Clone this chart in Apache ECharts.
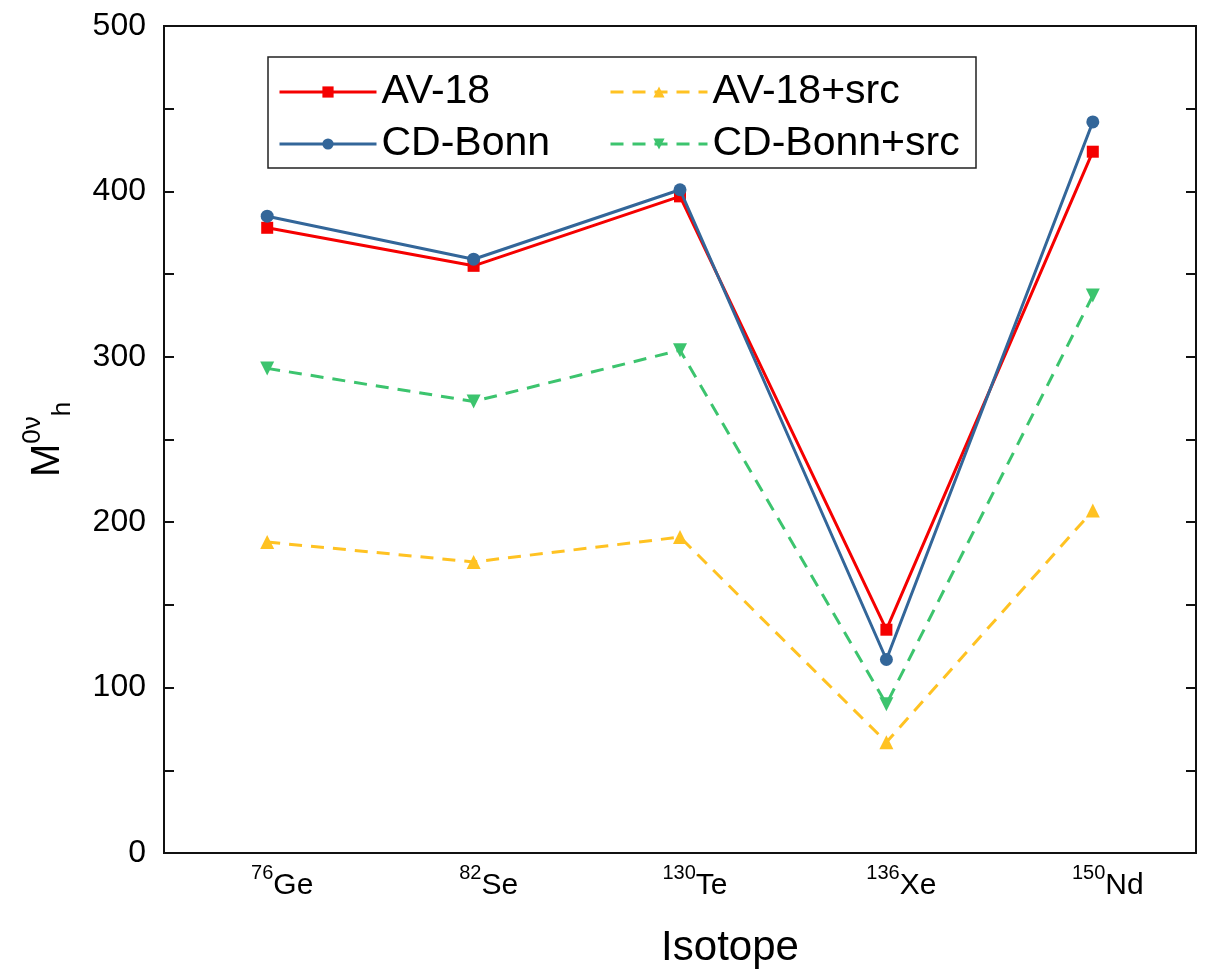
<!DOCTYPE html>
<html>
<head>
<meta charset="utf-8">
<script src="https://cdn.jsdelivr.net/npm/echarts@6/dist/echarts.min.js"></script>
<style>
  html, body { margin: 0; padding: 0; background: #fff; }
  #chart { width: 1214px; height: 974px; }
</style>
</head>
<body>
<div id="chart"></div>
<script>
// ---- data ----
var massNumbers = ['76', '82', '130', '136', '150'];
var elements = ['Ge', 'Se', 'Te', 'Xe', 'Nd'];
var categories = ['76Ge', '82Se', '130Te', '136Xe', '150Nd'];
var av18 = [378, 355, 397, 135, 424];
var cdBonn = [385, 359, 401, 117, 442];
var av18Src = [188, 176, 191, 67, 207];
var cdBonnSrc = [293, 273, 304, 90, 337];
var yTicks = [0, 100, 200, 300, 400, 500];

var FONT = '"Liberation Sans", Arial, sans-serif';

var chart = echarts.init(document.getElementById('chart'));

function catLabel(value) {
  var i = categories.indexOf(value);
  return '{sup|' + massNumbers[i] + '}{main|' + elements[i] + '}';
}

var legendText = { fontFamily: FONT, fontSize: 41, color: '#000', lineHeight: 44 };

var option = {
  backgroundColor: '#fff',
  animation: false,
  grid: {
    left: 164, right: 18, top: 26, bottom: 119,
    show: true, borderColor: '#111', borderWidth: 2, backgroundColor: 'transparent'
  },
  legend: [
    {
      data: ['AV-18', 'CD-Bonn'],
      orient: 'vertical', left: 273, top: 65,
      itemWidth: 97, itemHeight: 14, itemGap: 8,
      lineStyle: { width: 3 },
      textStyle: legendText
    },
    {
      data: ['AV-18+src', 'CD-Bonn+src'],
      orient: 'vertical', left: 604, top: 65,
      itemWidth: 97, itemHeight: 14, itemGap: 8,
      lineStyle: { width: 3 },
      textStyle: legendText
    }
  ],
  graphic: [
    {
      type: 'rect', z: 0,
      shape: { x: 268, y: 57, width: 708, height: 111 },
      style: { fill: '#fff', stroke: '#222', lineWidth: 1.5 }
    }
  ],
  xAxis: {
    type: 'category',
    data: categories,
    boundaryGap: true,
    name: 'Isotope',
    nameLocation: 'middle',
    nameGap: 74,
    nameTextStyle: { fontFamily: FONT, fontSize: 42, color: '#000', padding: [0, 0, 0, 100] },
    axisLine: { lineStyle: { color: '#111', width: 2 } },
    axisTick: { show: false },
    axisLabel: {
      margin: 10,
      padding: [0, 0, 0, 30],
      formatter: catLabel,
      rich: {
        sup: { fontFamily: FONT, fontSize: 20, color: '#000', verticalAlign: 'top', lineHeight: 20 },
        main: { fontFamily: FONT, fontSize: 30, color: '#000', lineHeight: 38, verticalAlign: 'bottom' }
      }
    },
    splitLine: { show: false }
  },
  yAxis: [
    {
      type: 'value', min: 0, max: 500, interval: 100,
      name: '{m|M}{sup|0ν}{sub|h}',
      nameLocation: 'middle',
      nameRotate: 90,
      nameGap: 88,
      nameTextStyle: {
        rich: {
          m: { fontFamily: FONT, fontSize: 40, color: '#000', lineHeight: 56, verticalAlign: 'middle' },
          sup: { fontFamily: FONT, fontSize: 26, color: '#000', lineHeight: 26, verticalAlign: 'top' },
          sub: { fontFamily: FONT, fontSize: 26, color: '#000', lineHeight: 26, verticalAlign: 'bottom' }
        }
      },
      axisLine: { show: true, lineStyle: { color: '#111', width: 2 } },
      axisTick: { show: true, inside: true, length: 10, lineStyle: { color: '#111', width: 2 } },
      minorTick: { show: true, splitNumber: 2, length: 10, lineStyle: { color: '#111', width: 2 } },
      axisLabel: {
        margin: 18, fontFamily: FONT, fontSize: 32, color: '#000',
        formatter: function (v) { return yTicks.indexOf(v) >= 0 ? String(v) : ''; }
      },
      splitLine: { show: false }
    },
    {
      type: 'value', min: 0, max: 500, interval: 100, position: 'right',
      axisLine: { show: true, lineStyle: { color: '#111', width: 2 } },
      axisTick: { show: true, inside: true, length: 10, lineStyle: { color: '#111', width: 2 } },
      minorTick: { show: true, splitNumber: 2, length: 10, lineStyle: { color: '#111', width: 2 } },
      axisLabel: { show: false },
      splitLine: { show: false }
    }
  ],
  series: [
    {
      name: 'AV-18+src', type: 'line', data: av18Src, z: 3,
      symbol: 'triangle', symbolSize: 14,
      itemStyle: { color: '#ffc222' },
      lineStyle: { color: '#ffc222', width: 3, type: [13, 9] }
    },
    {
      name: 'CD-Bonn+src', type: 'line', data: cdBonnSrc, z: 3,
      symbol: 'triangle', symbolRotate: 180, symbolSize: 14,
      itemStyle: { color: '#3cc46e' },
      lineStyle: { color: '#3cc46e', width: 3, type: [13, 9] }
    },
    {
      name: 'AV-18', type: 'line', data: av18, z: 4,
      symbol: 'rect', symbolSize: 12,
      itemStyle: { color: '#f50000' },
      lineStyle: { color: '#f50000', width: 3 }
    },
    {
      name: 'CD-Bonn', type: 'line', data: cdBonn, z: 5,
      symbol: 'circle', symbolSize: 13,
      itemStyle: { color: '#336699' },
      lineStyle: { color: '#336699', width: 3 }
    }
  ]
};
chart.setOption(option);
</script>
</body>
</html>
